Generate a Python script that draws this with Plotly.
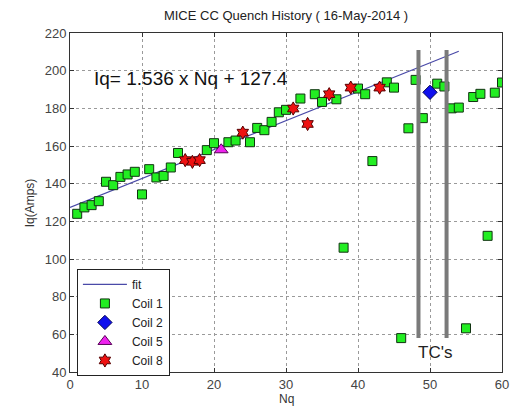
import plotly.graph_objects as go

# ---- data ----
coil1_nq = [1, 2, 3, 4, 5, 6, 7, 8, 9, 10, 11, 12, 13, 14, 15, 19, 20, 22, 23, 25, 26, 27, 28, 29, 30,
            32, 34, 35, 37, 38, 40, 41, 42, 44, 45, 46, 47, 48, 49, 51, 52, 53, 54, 55, 56, 57, 58, 59, 60]
coil1_iq = [124, 127.4, 128.6, 130.7, 141, 139.2, 143.6, 144.9, 146.3, 134.3, 147.7, 143.3, 144.1, 148.6, 156.3,
            157.8, 161.5, 162, 162.9, 162, 169.6, 168.4, 172.8, 177.9, 179.2,
            185.2, 187.5, 183.4, 184.8, 106, 190.5, 187.5, 152, 193.8, 191, 58, 169.4, 195.1, 174.8,
            193.1, 191.6, 180, 180.4, 63.2, 186, 187.7, 112.3, 188.3, 193.7]

coil2_nq = [50]
coil2_iq = [188.5]

coil5_nq = [21]
coil5_iq = [158]

coil8_nq = [16, 17, 18, 24, 31, 33, 36, 39, 43]
coil8_iq = [152.5, 151.6, 152.5, 167.1, 179.9, 171.7, 187.5, 191, 191]

fit_slope = 1.536
fit_intercept = 127.4
fit_range = [0, 54]

tc_nq = [48.4, 52.3]
tc_iq_range = [58, 211]

x_ticks = [0, 10, 20, 30, 40, 50, 60]
y_ticks = [40, 60, 80, 100, 120, 140, 160, 180, 200, 220]

fit_x = fit_range
fit_y = [fit_slope * v + fit_intercept for v in fit_range]

FONT = "Liberation Sans, Arial, sans-serif"

fig = go.Figure()
fig.add_trace(go.Scatter(x=fit_x, y=fit_y, mode="lines", name="fit",
                         line=dict(color="#4a4aa8", width=1.2)))
fig.add_trace(go.Scatter(x=coil1_nq, y=coil1_iq, mode="markers", name="Coil 1",
                         marker=dict(symbol="square", size=9, color="#22ee22",
                                     line=dict(color="#113311", width=1))))
fig.add_trace(go.Scatter(x=coil2_nq, y=coil2_iq, mode="markers", name="Coil 2",
                         marker=dict(symbol="diamond", size=11, color="#1010ee",
                                     line=dict(color="#000055", width=1))))
fig.add_trace(go.Scatter(x=coil5_nq, y=coil5_iq, mode="markers", name="Coil 5",
                         marker=dict(symbol="triangle-up", size=12, color="#ee22ee",
                                     line=dict(color="#550055", width=1))))
fig.add_trace(go.Scatter(x=coil8_nq, y=coil8_iq, mode="markers", name="Coil 8",
                         marker=dict(symbol="hexagram", size=10, color="#ee1111",
                                     line=dict(color="#550000", width=1))))

for xv in tc_nq:
    fig.add_shape(type="line", xref="x", yref="y", x0=xv, x1=xv,
                  y0=tc_iq_range[0], y1=tc_iq_range[1],
                  line=dict(color="#7a7a7a", width=4))

fig.add_annotation(x=3, y=196, xref="x", yref="y", xanchor="left", yanchor="middle",
                   text="Iq= 1.536 x Nq + 127.4", showarrow=False,
                   font=dict(family=FONT, size=19, color="#111111"))
fig.add_annotation(x=50.7, y=50.5, xref="x", yref="y", xanchor="center", yanchor="middle",
                   text="TC's", showarrow=False,
                   font=dict(family=FONT, size=17, color="#222222"))
fig.add_annotation(x=0.5, y=-0.08, xref="paper", yref="paper", xanchor="center", yanchor="middle",
                   text="Nq", showarrow=False,
                   font=dict(family=FONT, size=12, color="#333333"))
fig.add_annotation(x=-0.093, y=0.5, xref="paper", yref="paper", xanchor="center", yanchor="middle",
                   text="Iq(Amps)", showarrow=False, textangle=-90,
                   font=dict(family=FONT, size=12, color="#333333"))

axis_common = dict(showline=True, linecolor="#333333", linewidth=1, mirror="ticks",
                   ticks="inside", ticklen=4, tickcolor="#333333", automargin=False,
                   showgrid=True, gridcolor="#9a9a9a", griddash="dot", gridwidth=1,
                   zeroline=False, tickfont=dict(family=FONT, size=13, color="#444444"))

fig.update_layout(
    width=510, height=406,
    margin=dict(l=70, r=8, t=33, b=34),
    paper_bgcolor="white", plot_bgcolor="white",
    title=dict(text="MICE CC Quench History ( 16-May-2014 )", x=0.5, xref="paper", xanchor="center",
               y=0.963, yanchor="middle", font=dict(family=FONT, size=13, color="#222222")),
    xaxis=dict(range=[0, 60], tickvals=x_ticks, **axis_common),
    yaxis=dict(range=[40, 220], tickvals=y_ticks, **axis_common),
    legend=dict(x=0.016, y=0.304, xanchor="left", yanchor="top",
                bgcolor="white", bordercolor="#222222", borderwidth=1,
                font=dict(family=FONT, size=12, color="#222222"),
                tracegroupgap=0, itemwidth=44),
    showlegend=True,
)

fig.write_html("out.html", config={"displayModeBar": False},
               post_script="document.body.style.margin='0';document.body.style.overflow='hidden';")
